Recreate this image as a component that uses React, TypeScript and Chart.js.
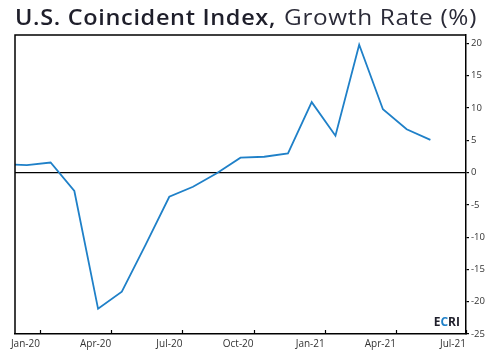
import React, { useEffect, useRef } from "react";
import { Chart, registerables } from "chart.js";

Chart.register(...registerables);

// ---- Data ----
const months = [
  "Dec-19", "Jan-20", "Feb-20", "Mar-20", "Apr-20", "May-20", "Jun-20",
  "Jul-20", "Aug-20", "Sep-20", "Oct-20", "Nov-20", "Dec-20",
  "Jan-21", "Feb-21", "Mar-21", "Apr-21", "May-21", "Jun-21",
];
const growthRate = [
  1.3, 1.15, 1.55, -2.85, -21.1, -18.45, -11.2,
  -3.75, -2.2, -0.1, 2.3, 2.45, 2.97,
  10.9, 5.7, 19.8, 9.8, 6.7, 5.05,
];
const xTickLabels = ["Jan-20", "Apr-20", "Jul-20", "Oct-20", "Jan-21", "Apr-21", "Jul-21"];
const yTickValues = [-25, -20, -15, -10, -5, 0, 5, 10, 15, 20];

const TITLE_BOLD = "U.S. Coincident Index,";
const TITLE_LIGHT = " Growth Rate (%)";

const MON = ["Jan", "Feb", "Mar", "Apr", "May", "Jun", "Jul", "Aug", "Sep", "Oct", "Nov", "Dec"];
const monthPos = (s: string) => {
  const [m, y] = s.split("-");
  return (2000 + parseInt(y, 10) - 2020) * 12 + MON.indexOf(m);
};

const X_MIN = -0.5;
const X_MAX = 18.5;
const TICK_SHIFT = 0.55;
const LINE_COLOR = "#1f80c8";
const INK = "#1f1f2b";
const FONT = "'Open Sans', 'DejaVu Sans', sans-serif";

export default function App() {
  const ref = useRef<HTMLCanvasElement | null>(null);

  useEffect(() => {
    if (!ref.current) return;
    const points = months.map((m, i) => ({ x: monthPos(m), y: growthRate[i] }));

    const fitText = (ctx: any, text: string, font: string, x: number, y: number, width: number) => {
      ctx.save();
      ctx.font = font;
      ctx.letterSpacing = "0.6px";
      const w = ctx.measureText(text).width;
      ctx.translate(x, y);
      ctx.scale(width / w, 1);
      ctx.fillText(text, 0, 0);
      ctx.restore();
    };

    const decorations = {
      id: "decorations",
      afterDatasetsDraw(chart: any) {
        const { ctx, chartArea } = chart;
        const { left, right, top, bottom } = chartArea;
        ctx.save();
        ctx.strokeStyle = "#000";
        ctx.lineWidth = 1.5;
        ctx.beginPath();
        ctx.moveTo(left, bottom);
        ctx.lineTo(left, top);
        ctx.lineTo(right, top);
        ctx.stroke();
        const xs = chart.scales.x;
        ctx.lineWidth = 1.2;
        xs.ticks.forEach((t: any) => {
          const px = Math.round(xs.getPixelForValue(t.value)) + 0.5;
          ctx.beginPath();
          ctx.moveTo(px, bottom);
          ctx.lineTo(px, bottom - 4);
          ctx.stroke();
        });
        ctx.font = `bold 12px ${FONT}`;
        ctx.textBaseline = "alphabetic";
        const parts: [string, string][] = [["E", INK], ["C", LINE_COLOR], ["RI", INK]];
        const total = parts.reduce((s, p) => s + ctx.measureText(p[0]).width, 0);
        let x = right - 6 - total;
        const by = bottom - 8;
        parts.forEach(([t, c]) => {
          ctx.fillStyle = c;
          ctx.fillText(t, x, by);
          x += ctx.measureText(t).width;
        });
        ctx.restore();
      },
      afterDraw(chart: any) {
        const { ctx } = chart;
        ctx.save();
        ctx.textBaseline = "alphabetic";
        ctx.fillStyle = INK;
        fitText(ctx, TITLE_BOLD, `600 21px ${FONT}`, 15, 25, 261);
        ctx.fillStyle = "#2b2b38";
        fitText(ctx, TITLE_LIGHT, `400 21px ${FONT}`, 277, 25, 200);
        ctx.restore();
      },
    };

    const chart = new Chart(ref.current, {
      type: "line",
      data: {
        datasets: [
          {
            data: points,
            borderColor: LINE_COLOR,
            borderWidth: 1.8,
            pointRadius: 0,
            tension: 0,
            fill: false,
          },
        ],
      },
      options: {
        responsive: false,
        animation: false,
        layout: { padding: { left: 15, top: 35, right: 0, bottom: 0 } },
        plugins: { legend: { display: false }, tooltip: { enabled: false }, title: { display: false } },
        scales: {
          x: {
            type: "linear",
            min: X_MIN,
            max: X_MAX,
            afterBuildTicks(scale: any) {
              scale.ticks = xTickLabels.map((l) => ({
                value: Math.min(monthPos(l) + TICK_SHIFT, X_MAX),
              }));
            },
            afterFit(scale: any) {
              scale.height = 21;
            },
            ticks: {
              autoSkip: false,
              maxRotation: 0,
              align: "end",
              padding: 4,
              color: "#333",
              font: { family: FONT, size: 10 },
              callback: (_v: any, i: number) => xTickLabels[i],
            },
            grid: { display: true, drawOnChartArea: false, drawTicks: false, color: "transparent" },
            border: { display: true, color: "#000", width: 1.5 },
          },
          y: {
            type: "linear",
            position: "right",
            min: -25,
            max: 21.3,
            afterBuildTicks(scale: any) {
              scale.ticks = yTickValues.map((v) => ({ value: v }));
            },
            afterFit(scale: any) {
              scale.width = 29;
            },
            ticks: {
              padding: 2,
              color: "#333",
              font: { family: FONT, size: 9.5 },
            },
            grid: {
              drawOnChartArea: true,
              drawTicks: true,
              tickLength: 3,
              lineWidth: 1.2,
              color: (c: any) => (c.tick && c.tick.value === 0 ? "#000" : "transparent"),
              tickColor: "#000",
            },
            border: { display: true, color: "#000", width: 1.5 },
          },
        },
      },
      plugins: [decorations],
    });
    return () => chart.destroy();
  }, []);

  return (
    <div style={{ position: "absolute", left: 0, top: 0, width: 495, height: 355, background: "#fff" }}>
      <canvas ref={ref} width={495} height={355} style={{ display: "block" }} />
    </div>
  );
}
